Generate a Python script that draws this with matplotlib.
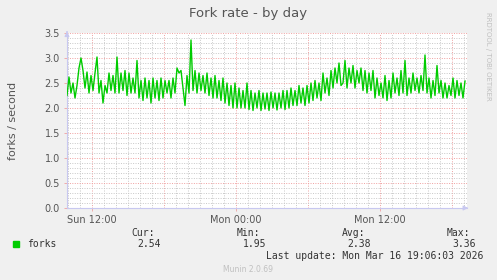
import numpy as np
import matplotlib.pyplot as plt

# hours since Sun 00:00, one sample every 10 minutes
t_start = 9.9167
t_step = 1 / 6
forks = [2.25, 2.62, 2.30, 2.50, 2.20, 2.45, 2.80, 3.00, 2.75, 2.40,
         2.72, 2.30, 2.65, 2.35, 2.70, 3.02, 2.30, 2.55, 2.10, 2.45,
         2.30, 2.70, 2.35, 2.65, 2.30, 3.02, 2.30, 2.70, 2.35, 2.75,
         2.25, 2.70, 2.30, 2.60, 2.30, 2.95, 2.20, 2.55, 2.15, 2.60,
         2.20, 2.55, 2.10, 2.60, 2.20, 2.55, 2.15, 2.60, 2.20, 2.55,
         2.30, 2.55, 2.20, 2.60, 2.30, 2.80, 2.70, 2.75, 2.40, 2.05,
         2.65, 2.30, 3.36, 2.35, 2.75, 2.30, 2.70, 2.35, 2.65, 2.30,
         2.70, 2.25, 2.60, 2.20, 2.65, 2.20, 2.55, 2.15, 2.60, 2.10,
         2.50, 2.05, 2.45, 2.00, 2.50, 2.00, 2.40, 2.00, 2.35, 2.00,
         2.50, 1.97, 2.35, 1.95, 2.30, 2.00, 2.35, 1.95, 2.30, 1.98,
         2.30, 1.95, 2.32, 2.00, 2.30, 1.96, 2.30, 2.00, 2.35, 1.97,
         2.35, 2.00, 2.40, 2.05, 2.35, 2.05, 2.45, 2.10, 2.40, 2.05,
         2.45, 2.10, 2.50, 2.15, 2.55, 2.20, 2.50, 2.15, 2.70, 2.30,
         2.60, 2.25, 2.75, 2.40, 2.80, 2.50, 2.90, 2.45, 2.50, 2.95,
         2.40, 2.80, 2.50, 2.85, 2.40, 2.75, 2.50, 2.80, 2.35, 2.75,
         2.30, 2.70, 2.35, 2.75, 2.20, 2.60, 2.25, 2.50, 2.20, 2.65,
         2.15, 2.55, 2.20, 2.70, 2.30, 2.60, 2.25, 2.75, 2.30, 2.95,
         2.25, 2.60, 2.30, 2.70, 2.35, 2.60, 2.30, 2.65, 2.35, 3.06,
         2.30, 2.60, 2.20, 2.55, 2.25, 2.85, 2.30, 2.55, 2.20, 2.50,
         2.20, 2.45, 2.25, 2.60, 2.20, 2.55, 2.25, 2.50, 2.20, 2.54]
t = t_start + t_step * np.arange(len(forks))

xtick_pos = [12, 24, 36]
xtick_labels = ['Sun 12:00', 'Mon 00:00', 'Mon 12:00']
stat_names = ['Cur:', 'Min:', 'Avg:', 'Max:']
stat_values = ['2.54', '1.95', '2.38', '3.36']

W, H = 497, 280
fig = plt.figure(figsize=(W / 100, H / 100), dpi=100, facecolor='#F0F0F0')
ax = fig.add_axes([67 / W, 72 / H, 400 / W, 175 / H])
ax.set_facecolor('white')

ax.plot(t, forks, color='#00CC00', lw=1.0, zorder=3)

ax.set_xlim(t_start, t_start + 400 / 12)
ax.set_ylim(0, 3.5)

# grid: minor grey, major red
for h in np.arange(10, 44):
    c = '#F0A0A0' if h % 6 == 0 else '#C8C8C8'
    ax.axvline(h, color=c, lw=0.7, ls=(0, (1, 1.5)), zorder=1)
for v in np.arange(0.1, 3.51, 0.1):
    c = '#F0A0A0' if abs(v * 2 - round(v * 2)) < 1e-6 else '#C8C8C8'
    ax.axhline(v, color=c, lw=0.7, ls=(0, (1, 1.5)), zorder=1)

for s in ['top', 'right']:
    ax.spines[s].set_visible(False)
for s in ['left', 'bottom']:
    ax.spines[s].set_color('#C8C8F0')
    ax.spines[s].set_linewidth(0.8)
ax.annotate('', xy=(1.01, 0), xytext=(0.99, 0), xycoords='axes fraction',
            arrowprops=dict(arrowstyle='-|>', color='#C8C8F0', lw=0.8, mutation_scale=7))
ax.annotate('', xy=(0, 1.025), xytext=(0, 0.99), xycoords='axes fraction',
            arrowprops=dict(arrowstyle='-|>', color='#C8C8F0', lw=0.8, mutation_scale=7))

ax.set_yticks(np.arange(0, 3.51, 0.5))
ax.set_yticklabels(['%.1f' % v for v in np.arange(0, 3.51, 0.5)])
ax.set_xticks(xtick_pos)
ax.set_xticklabels(xtick_labels)
ax.tick_params(axis='both', labelsize=7, colors='#555555', length=2, width=0.6, pad=3)
ax.tick_params(axis='both', color='#F0A0A0')
ax.set_ylabel('forks / second', fontsize=8, color='#555555', labelpad=19)

fig.text(248 / W, 1 - 13 / H, 'Fork rate - by day', ha='center', va='center',
         fontsize=9.5, color='#555555')
fig.text(488 / W, 1 - 56 / H, 'RRDTOOL / TOBI OETIKER', rotation=-90, ha='center',
         va='center', fontsize=5, color='#C0C0C0')

mono = 'DejaVu Sans Mono'
fig.patches.append(plt.Rectangle((13 / W, 1 - 247 / H), 6 / W, 6 / H,
                                 transform=fig.transFigure, color='#00CC00'))
fig.text(27 / W, 1 - 244 / H, 'forks', family=mono, fontsize=7, color='#333333', va='center')
for i in range(4):
    x_right = (155 + 105 * i) / W
    fig.text(x_right, 1 - 233 / H, stat_names[i], family=mono, fontsize=7,
             color='#333333', ha='right', va='center')
    fig.text(x_right + 6 / W, 1 - 244 / H, stat_values[i], family=mono, fontsize=7,
             color='#333333', ha='right', va='center')
fig.text(483 / W, 1 - 256 / H, 'Last update: Mon Mar 16 19:06:03 2026', family=mono,
         fontsize=7, color='#333333', ha='right', va='center')
fig.text(248 / W, 1 - 270 / H, 'Munin 2.0.69', fontsize=5.5, color='#C0C0C0',
         ha='center', va='center')

fig.savefig('out.png', dpi=100, facecolor=fig.get_facecolor())
